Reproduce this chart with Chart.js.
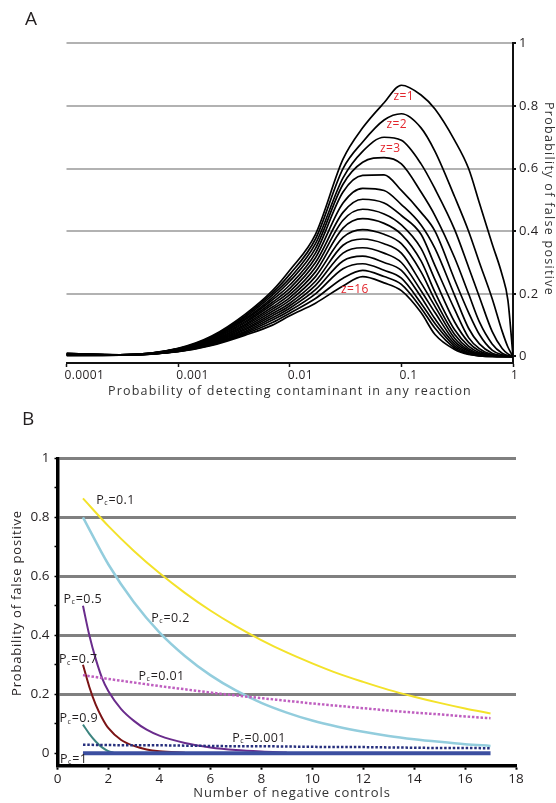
<!DOCTYPE html>
<html>
<head>
<meta charset="utf-8">
<script src="https://cdn.jsdelivr.net/npm/chart.js@4.4.1/dist/chart.umd.min.js"></script>
<style>
  html, body { margin: 0; padding: 0; background: #fff; }
  #wrap { position: relative; width: 556px; height: 803px; overflow: hidden; font-family: "Open Sans", sans-serif; }
  canvas { position: absolute; left: 0; }
  #chart-a { top: 0; }
  #chart-b { top: 400px; }
  .panel { position: absolute; font-size: 19px; line-height: 1; color: #231f20; }
</style>
</head>
<body>
<div id="wrap">
  <canvas id="chart-a" width="556" height="400"></canvas>
  <canvas id="chart-b" width="556" height="403"></canvas>
  <div class="panel" style="left:25px;top:9px">A</div>
  <div class="panel" style="left:22px;top:409px">B</div>
</div>
<script>
// ---------- panel A data ----------
// probability of detecting contaminant in any reaction (x)
var pDetect = [0.0001, 0.0003, 0.001, 0.002, 0.004, 0.007, 0.01, 0.017, 0.03, 0.045, 0.07, 0.1, 0.15, 0.2, 0.3, 0.4, 0.5, 0.65, 0.8, 0.9, 1];
// probability of false positive for z = 1..16
var fpZ1  = [0.010, 0.005, 0.026, 0.065, 0.135, 0.21, 0.275, 0.39, 0.63, 0.73, 0.81, 0.866, 0.835, 0.79, 0.69, 0.60, 0.49, 0.36, 0.26, 0.18, 0];
var fpZ2  = [0.0095, 0.005, 0.025, 0.063, 0.13, 0.203, 0.262, 0.375, 0.6, 0.685, 0.755, 0.775, 0.73, 0.655, 0.51, 0.40, 0.30, 0.185, 0.08, 0.03, 0];
var fpZ3  = [0.009, 0.005, 0.024, 0.061, 0.126, 0.196, 0.25, 0.36, 0.57, 0.655, 0.70, 0.69, 0.615, 0.535, 0.405, 0.285, 0.19, 0.08, 0.025, 0.008, 0];
var fpZ4  = [0.0085, 0.005, 0.024, 0.059, 0.121, 0.188, 0.24, 0.345, 0.55, 0.62, 0.635, 0.615, 0.525, 0.45, 0.315, 0.20, 0.11, 0.04, 0.01, 0.003, 0];
var fpZ5  = [0.008, 0.005, 0.023, 0.057, 0.117, 0.181, 0.228, 0.33, 0.525, 0.578, 0.58, 0.53, 0.46, 0.40, 0.245, 0.14, 0.07, 0.02, 0.005, 0.001, 0];
var fpZ6  = [0.0075, 0.005, 0.022, 0.055, 0.112, 0.173, 0.217, 0.315, 0.49, 0.537, 0.53, 0.485, 0.42, 0.345, 0.195, 0.09, 0.04, 0.01, 0.002, 0.001, 0];
var fpZ7  = [0.007, 0.005, 0.021, 0.053, 0.108, 0.166, 0.207, 0.30, 0.46, 0.502, 0.49, 0.45, 0.39, 0.29, 0.15, 0.06, 0.025, 0.006, 0.001, 0, 0];
var fpZ8  = [0.0065, 0.0045, 0.02, 0.051, 0.103, 0.158, 0.197, 0.285, 0.435, 0.47, 0.455, 0.42, 0.345, 0.245, 0.11, 0.045, 0.017, 0.004, 0.001, 0, 0];
var fpZ9  = [0.006, 0.0045, 0.02, 0.049, 0.099, 0.151, 0.188, 0.27, 0.41, 0.44, 0.425, 0.39, 0.305, 0.205, 0.085, 0.033, 0.012, 0.003, 0, 0, 0];
var fpZ10 = [0.0055, 0.0045, 0.019, 0.047, 0.094, 0.144, 0.179, 0.255, 0.38, 0.405, 0.39, 0.36, 0.27, 0.18, 0.07, 0.025, 0.009, 0.002, 0, 0, 0];
var fpZ11 = [0.005, 0.0045, 0.018, 0.045, 0.089, 0.137, 0.17, 0.24, 0.355, 0.375, 0.36, 0.33, 0.235, 0.16, 0.058, 0.02, 0.007, 0.001, 0, 0, 0];
var fpZ12 = [0.0045, 0.004, 0.018, 0.043, 0.085, 0.13, 0.162, 0.227, 0.33, 0.347, 0.33, 0.30, 0.21, 0.14, 0.048, 0.016, 0.005, 0.001, 0, 0, 0];
var fpZ13 = [0.004, 0.004, 0.017, 0.041, 0.08, 0.123, 0.154, 0.213, 0.305, 0.32, 0.30, 0.275, 0.19, 0.12, 0.04, 0.012, 0.004, 0.001, 0, 0, 0];
var fpZ14 = [0.0035, 0.004, 0.016, 0.039, 0.076, 0.116, 0.146, 0.2, 0.28, 0.296, 0.275, 0.25, 0.17, 0.105, 0.033, 0.01, 0.003, 0, 0, 0, 0];
var fpZ15 = [0.003, 0.004, 0.016, 0.037, 0.072, 0.108, 0.138, 0.185, 0.25, 0.275, 0.255, 0.23, 0.155, 0.09, 0.027, 0.008, 0.002, 0, 0, 0, 0];
var fpZ16 = [0.003, 0.004, 0.015, 0.035, 0.068, 0.1, 0.13, 0.17, 0.225, 0.255, 0.235, 0.21, 0.14, 0.07, 0.022, 0.006, 0.002, 0, 0, 0, 0];
var decadeTicks = [0.0001, 0.001, 0.01, 0.1, 1];
var fpTicksA = [0, 0.2, 0.4, 0.6, 0.8, 1];
var zNames = ['z=1', 'z=2', 'z=3', 'z=16'];

// ---------- panel B data ----------
var controlsN = [1, 2, 3, 4, 5, 6, 7, 8, 9, 10, 11, 12, 13, 14, 15, 16, 17];
var fpPc0p1   = [0.864, 0.77, 0.686, 0.611, 0.544, 0.484, 0.431, 0.384, 0.342, 0.305, 0.271, 0.242, 0.215, 0.192, 0.171, 0.152, 0.135];
var fpPc0p2   = [0.80, 0.64, 0.512, 0.41, 0.33, 0.265, 0.213, 0.171, 0.138, 0.111, 0.09, 0.073, 0.059, 0.048, 0.039, 0.031, 0.025];
var fpPc0p01  = [0.265, 0.252, 0.24, 0.228, 0.217, 0.206, 0.196, 0.187, 0.178, 0.169, 0.161, 0.153, 0.145, 0.138, 0.132, 0.125, 0.119];
var fpPc0p001 = [0.029, 0.028, 0.027, 0.027, 0.026, 0.025, 0.024, 0.024, 0.023, 0.022, 0.021, 0.021, 0.020, 0.019, 0.018, 0.018, 0.017];
var fpPc1     = [0, 0, 0, 0, 0, 0, 0, 0, 0, 0, 0, 0, 0, 0, 0, 0, 0];
var controlsSteep = [1, 1.25, 1.5, 1.75, 2, 2.5, 3, 3.5, 4, 5, 6, 7, 8, 9];
var fpPc0p5 = [0.50, 0.40, 0.32, 0.255, 0.21, 0.15, 0.11, 0.08, 0.06, 0.035, 0.02, 0.011, 0.006, 0.003];
var fpPc0p7 = [0.30, 0.225, 0.165, 0.12, 0.085, 0.045, 0.025, 0.013, 0.007, 0.002];
var controlsPc0p9 = [1, 1.25, 1.5, 1.75, 2, 2.2];
var fpPc0p9 = [0.097, 0.066, 0.04, 0.02, 0.007, 0.002];
var fpTicksB = [0, 0.1, 0.2, 0.3, 0.4, 0.5, 0.6, 0.7, 0.8, 0.9, 1];
var pcNames = ['0.1', '0.2', '0.5', '0.7', '0.01', '0.9', '0.001', '1'];

var FONT = '"Open Sans", sans-serif';
var INK = '#231f20';

function pts(xs, ys) {
  return ys.map(function (y, i) { return { x: xs[i], y: y }; });
}

// draws axis titles and the in-plot notes
var panelText = {
  id: 'panelText',
  beforeDraw: function (chart, args, opts) {
    chart.ctx.letterSpacing = opts.tickSpacing || '0px';
  },
  afterDraw: function (chart, args, opts) {
    var ctx = chart.ctx;
    (opts.titles || []).forEach(function (t) {
      ctx.save();
      ctx.font = t.font;
      ctx.fillStyle = t.color;
      ctx.letterSpacing = t.spacing;
      ctx.textAlign = 'center';
      ctx.textBaseline = 'middle';
      ctx.translate(t.x, t.y);
      ctx.rotate(t.rotate || 0);
      ctx.fillText(t.text, 0, 0);
      ctx.restore();
    });
    (opts.notes || []).forEach(function (n) {
      var x = chart.scales.x.getPixelForValue(n.at[0]);
      var y = chart.scales.y.getPixelForValue(n.at[1]);
      ctx.save();
      ctx.fillStyle = n.color;
      ctx.letterSpacing = n.spacing || '0px';
      ctx.textBaseline = 'alphabetic';
      if (n.sub) {
        var base = y + 4.5;
        ctx.textAlign = 'left';
        ctx.font = '12.5px ' + FONT;
        ctx.fillText('P', x, base);
        var w = ctx.measureText('P').width;
        ctx.font = '7px ' + FONT;
        ctx.fillText('c', x + w, base + 1.5);
        var w2 = ctx.measureText('c').width;
        ctx.font = '12.5px ' + FONT;
        ctx.fillText('=' + n.text, x + w + w2 + 0.5, base);
      } else {
        ctx.textAlign = 'center';
        ctx.font = n.font;
        ctx.fillText(n.text, x, y + 4);
      }
      ctx.restore();
    });
  }
};

// ---------------- CHART A ----------------
var zSeries = [fpZ1, fpZ2, fpZ3, fpZ4, fpZ5, fpZ6, fpZ7, fpZ8, fpZ9, fpZ10, fpZ11, fpZ12, fpZ13, fpZ14, fpZ15, fpZ16];
var ctxA = document.getElementById('chart-a').getContext('2d');
var chartA = new Chart(ctxA, {
  type: 'line',
  data: {
    datasets: zSeries.map(function (s, i) {
      return {
        label: 'z=' + (i + 1),
        data: pts(pDetect, s),
        borderColor: '#000',
        borderWidth: 1.7,
        pointRadius: 0,
        cubicInterpolationMode: 'monotone'
      };
    })
  },
  options: {
    responsive: false,
    animation: false,
    devicePixelRatio: 1,
    layout: { padding: { left: 66.5, top: 43.3, right: 0, bottom: 0 } },
    plugins: {
      legend: { display: false },
      tooltip: { enabled: false },
      panelText: {
        tickSpacing: '0.4px',
        titles: [
          { text: 'Probability of detecting contaminant in any reaction', x: 290, y: 391, font: '12.5px ' + FONT, color: '#333', spacing: '1.2px' },
          { text: 'Probability of false positive', x: 549, y: 199, rotate: Math.PI / 2, font: '12.5px ' + FONT, color: '#333', spacing: '1.3px' }
        ],
        notes: [
          { text: zNames[0], at: [0.105, 0.833], font: '12px ' + FONT, color: '#e3262d', spacing: '0.4px' },
          { text: zNames[1], at: [0.091, 0.743], font: '12px ' + FONT, color: '#e3262d', spacing: '0.4px' },
          { text: zNames[2], at: [0.0796, 0.667], font: '12px ' + FONT, color: '#e3262d', spacing: '0.4px' },
          { text: zNames[3], at: [0.0383, 0.214], font: '12px ' + FONT, color: '#e3262d', spacing: '0.4px' }
        ]
      }
    },
    scales: {
      x: {
        type: 'logarithmic',
        min: 0.0001,
        max: 1,
        afterBuildTicks: function (s) { s.ticks = decadeTicks.map(function (v) { return { value: v }; }); },
        afterFit: function (s) { s.height = 37; },
        border: { color: '#111', width: 2 },
        grid: { drawOnChartArea: false, tickLength: 4, tickColor: '#111', tickWidth: 1.5 },
        ticks: {
          align: 'start', labelOffset: -2, padding: 1, autoSkip: false, maxRotation: 0,
          color: INK, font: { family: FONT, size: 12 },
          callback: function (v) { return String(v); }
        }
      },
      y: {
        position: 'right',
        min: -0.021,
        max: 1,
        afterBuildTicks: function (s) { s.ticks = fpTicksA.map(function (v) { return { value: v }; }); },
        afterFit: function (s) { s.width = 43; },
        border: { color: '#111', width: 2 },
        grid: {
          color: function (c) { return c.tick && c.tick.value === 0 ? 'rgba(0,0,0,0)' : '#b2b2b2'; },
          lineWidth: 2, tickLength: 3, tickColor: '#111'
        },
        ticks: {
          padding: 3, color: INK, font: { family: FONT, size: 13 },
          callback: function (v) { return String(v); }
        }
      }
    }
  },
  plugins: [panelText]
});

// ---------------- CHART B ----------------
var ctxB = document.getElementById('chart-b').getContext('2d');
var chartB = new Chart(ctxB, {
  type: 'line',
  data: {
    datasets: [
      { label: 'Pc=1', data: pts(controlsN, fpPc1), borderColor: '#3c4fa0', borderWidth: 4 },
      { label: 'Pc=0.001', data: pts(controlsN, fpPc0p001), borderColor: '#27307e', borderWidth: 2.5, borderDash: [2.5, 1.8] },
      { label: 'Pc=0.01', data: pts(controlsN, fpPc0p01), borderColor: '#bf5fc0', borderWidth: 2.5, borderDash: [2.5, 1.8] },
      { label: 'Pc=0.9', data: pts(controlsPc0p9, fpPc0p9), borderColor: '#3d8580', borderWidth: 2 },
      { label: 'Pc=0.7', data: pts(controlsSteep, fpPc0p7), borderColor: '#7b1416', borderWidth: 2 },
      { label: 'Pc=0.5', data: pts(controlsSteep, fpPc0p5), borderColor: '#6a2c8c', borderWidth: 2 },
      { label: 'Pc=0.2', data: pts(controlsN, fpPc0p2), borderColor: '#93cddd', borderWidth: 2.5 },
      { label: 'Pc=0.1', data: pts(controlsN, fpPc0p1), borderColor: '#f3e22a', borderWidth: 2 }
    ].map(function (d) {
      d.pointRadius = 0;
      d.cubicInterpolationMode = 'monotone';
      return d;
    })
  },
  options: {
    responsive: false,
    animation: false,
    devicePixelRatio: 1,
    layout: { padding: { left: 0, top: 58.3, right: 40, bottom: 0 } },
    plugins: {
      legend: { display: false },
      tooltip: { enabled: false },
      panelText: {
        tickSpacing: '0px',
        titles: [
          { text: 'Number of negative controls', x: 292, y: 393, font: '13px ' + FONT, color: '#333', spacing: '0.9px' },
          { text: 'Probability of false positive', x: 17.5, y: 203, rotate: -Math.PI / 2, font: '13px ' + FONT, color: INK, spacing: '0.8px' }
        ],
        notes: [
          { text: pcNames[0], at: [1.52, 0.862], sub: true, color: INK, spacing: '0.4px' },
          { text: pcNames[1], at: [3.68, 0.462], sub: true, color: INK, spacing: '0.4px' },
          { text: pcNames[2], at: [0.24, 0.526], sub: true, color: INK, spacing: '0.4px' },
          { text: pcNames[3], at: [0.06, 0.32], sub: true, color: INK, spacing: '0.4px' },
          { text: pcNames[4], at: [3.18, 0.265], sub: true, color: INK, spacing: '0.4px' },
          { text: pcNames[5], at: [0.08, 0.12], sub: true, color: INK, spacing: '0.4px' },
          { text: pcNames[6], at: [6.86, 0.055], sub: true, color: INK, spacing: '0.4px' },
          { text: pcNames[7], at: [0.1, -0.016], sub: true, color: INK, spacing: '0.4px' }
        ]
      }
    },
    scales: {
      x: {
        type: 'linear',
        min: 0,
        max: 18,
        afterFit: function (s) { s.height = 37.3; },
        border: { color: '#000', width: 3.5 },
        grid: { drawOnChartArea: false, tickLength: 4, tickColor: '#000', tickWidth: 2 },
        ticks: { stepSize: 2, padding: 1, color: INK, font: { family: FONT, size: 13.5 } }
      },
      y: {
        min: -0.042,
        max: 1,
        afterBuildTicks: function (s) { s.ticks = fpTicksB.map(function (v) { return { value: v }; }); },
        afterFit: function (s) { s.width = 57.5; },
        border: { color: '#000', width: 3.5 },
        grid: {
          color: function (c) { return (c.index % 2 === 1 || c.index === 0) ? 'rgba(0,0,0,0)' : '#808080'; },
          lineWidth: 3, tickLength: 3, tickColor: '#000', tickWidth: 1.5
        },
        ticks: {
          padding: 5, color: INK, font: { family: FONT, size: 13.5 },
          callback: function (v, i) { return i % 2 === 0 ? String(v) : ''; }
        }
      }
    }
  },
  plugins: [panelText]
});
</script>
</body>
</html>
